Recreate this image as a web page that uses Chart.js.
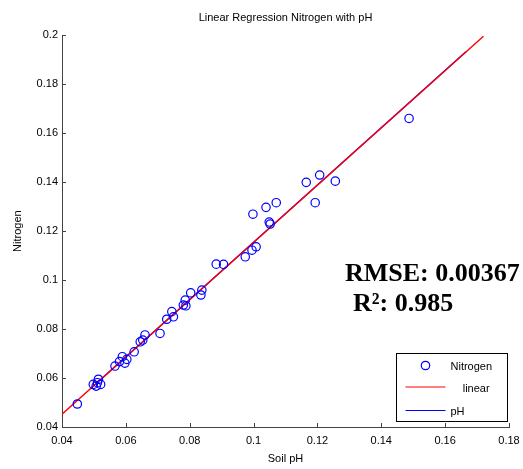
<!DOCTYPE html>
<html>
<head>
<meta charset="utf-8">
<script src="https://cdn.jsdelivr.net/npm/chart.js@4.4.0/dist/chart.umd.min.js"></script>
<style>
html, body { margin: 0; padding: 0; background: #fff; }
#wrap { width: 523px; height: 469px; }
</style>
</head>
<body>
<div id="wrap"><canvas id="chart-area" width="523" height="469"></canvas></div>
<script>
// measured samples
var soilPh = [0.0448, 0.0498, 0.0507, 0.0514, 0.0521, 0.0511, 0.0566, 0.0580, 0.0589, 0.0603,
    0.0597, 0.0626, 0.0645, 0.0653, 0.0660, 0.0707, 0.0728, 0.0744, 0.0749, 0.0780,
    0.0786, 0.0788, 0.0803, 0.0835, 0.0838, 0.0883, 0.0906, 0.0974, 0.0995, 0.1008,
    0.0998, 0.1039, 0.1071, 0.1052, 0.1049, 0.1165, 0.1207, 0.1256, 0.1193, 0.1487];
var nitrogen = [0.0494, 0.0574, 0.0567, 0.0595, 0.0574, 0.0581, 0.0649, 0.0667, 0.0687, 0.0676,
    0.0661, 0.0707, 0.0748, 0.0755, 0.0776, 0.0782, 0.0840, 0.0871, 0.0850, 0.0898,
    0.0918, 0.0895, 0.0948, 0.0939, 0.0959, 0.1065, 0.1064, 0.1095, 0.1122, 0.1136,
    0.1269, 0.1297, 0.1316, 0.1229, 0.1237, 0.1399, 0.1429, 0.1404, 0.1316, 0.1660];

// fitted lines (end points)
var linearX = [0.04, 0.172];
var linearY = [0.0452, 0.1996];
var phX = [0.0488, 0.1665];
var phY = [0.0555, 0.1932];

var xTicks = [0.04, 0.06, 0.08, 0.1, 0.12, 0.14, 0.16, 0.18];
var yTicks = [0.04, 0.06, 0.08, 0.1, 0.12, 0.14, 0.16, 0.18, 0.2];

var rmseText = 'RMSE: 0.00367';
var r2Text = 'R\u00b2: 0.985';

var toPoints = function(xs, ys) {
    return xs.map(function(x, i) { return {x: x, y: ys[i]}; });
};
var fmt = function(v) {
    return String(Number(v.toFixed(2)));
};
var axisColor = '#444';
var font = {family: 'Liberation Sans, Arial, sans-serif', size: 11};

// ticks inside the axes, legend box and the fit text
var extras = {
    id: 'extras',
    afterDraw: function(chart) {
        var ctx = chart.ctx;
        var ca = chart.chartArea;
        var xs = chart.scales.x, ys = chart.scales.y;
        ctx.save();
        ctx.strokeStyle = axisColor;
        ctx.lineWidth = 1;
        ctx.beginPath();
        xTicks.forEach(function(v) {
            var px = Math.round(xs.getPixelForValue(v)) + 0.5;
            ctx.moveTo(px, ca.bottom);
            ctx.lineTo(px, ca.bottom - 4);
        });
        yTicks.forEach(function(v) {
            var py = Math.round(ys.getPixelForValue(v)) + 0.5;
            ctx.moveTo(ca.left, py);
            ctx.lineTo(ca.left + 4, py);
        });
        ctx.stroke();

        // legend
        var bw = 111, bh = 68;
        var bx = Math.round(ca.right - 2 - bw) + 0.5;
        var by = Math.round(ca.bottom - 6 - bh) + 0.5;
        ctx.fillStyle = '#fff';
        ctx.fillRect(bx, by, bw, bh);
        ctx.strokeStyle = '#000';
        ctx.strokeRect(bx, by, bw, bh);
        var rows = [12, 34, 57];
        ctx.font = '11px ' + font.family;
        ctx.textBaseline = 'middle';
        ctx.textAlign = 'left';
        chart.data.datasets.forEach(function(ds, i) {
            var ry = by + rows[i];
            if (ds.showLine) {
                var ly = i === 1 ? ry - 0.5 : ry;
                ctx.strokeStyle = ds.borderColor;
                ctx.lineWidth = i === 1 ? 1.2 : 1;
                ctx.beginPath();
                ctx.moveTo(bx + 9, ly);
                ctx.lineTo(bx + 49, ly);
                ctx.stroke();
            } else {
                ctx.strokeStyle = ds.borderColor;
                ctx.lineWidth = ds.borderWidth;
                ctx.beginPath();
                ctx.arc(bx + 29, ry, ds.pointRadius, 0, Math.PI * 2);
                ctx.stroke();
            }
            ctx.lineWidth = 1;
            ctx.fillStyle = '#000';
            ctx.fillText(ds.label, bx + 54, ry + 1);
        });

        // fit statistics
        ctx.font = 'bold 26px Liberation Serif, Times New Roman, serif';
        ctx.textBaseline = 'alphabetic';
        ctx.fillStyle = '#000';
        ctx.fillText(rmseText, ca.left + 283, ca.top + 246);
        ctx.fillText(r2Text, ca.left + 291, ca.top + 276);
        ctx.restore();
    }
};

var config = {
    type: 'scatter',
    data: {
        datasets: [{
            label: 'Nitrogen',
            data: toPoints(soilPh, nitrogen),
            borderColor: '#0000ff',
            backgroundColor: 'rgba(0,0,0,0)',
            borderWidth: 1.2,
            pointRadius: 4.2,
            pointHoverRadius: 4.2
        }, {
            label: '    linear',
            data: toPoints(linearX, linearY),
            showLine: true,
            borderColor: '#ff0000',
            borderWidth: 1.4,
            pointRadius: 0
        }, {
            label: 'pH',
            data: toPoints(phX, phY),
            showLine: true,
            borderColor: '#0000ff',
            borderWidth: 1.4,
            pointRadius: 0
        }]
    },
    options: {
        responsive: false,
        animation: false,
        layout: {padding: {top: 0, right: 14, bottom: 0, left: 0}},
        plugins: {
            legend: {display: false},
            tooltip: {enabled: false},
            title: {
                display: true,
                text: 'Linear Regression Nitrogen with pH',
                fullSize: false,
                color: '#000',
                font: {family: font.family, size: 11, weight: 'normal'},
                padding: {top: 11, bottom: 11}
            }
        },
        scales: {
            x: {
                type: 'linear',
                min: 0.04,
                max: 0.18,
                afterBuildTicks: function(scale) {
                    scale.ticks = xTicks.map(function(v) { return {value: v}; });
                },
                afterFit: function(scale) {
                    scale.height = 42;
                    scale.paddingLeft = 0;
                    scale.paddingRight = 0;
                },
                ticks: {color: '#000', font: font, padding: 7, maxRotation: 0,
                    callback: function(v) { return fmt(v); }},
                grid: {display: false, drawTicks: false},
                border: {display: true, color: axisColor, width: 1},
                title: {display: true, text: 'Soil pH', color: '#000', font: font,
                    padding: {top: 0, bottom: 3}}
            },
            y: {
                type: 'linear',
                min: 0.04,
                max: 0.2,
                afterBuildTicks: function(scale) {
                    scale.ticks = yTicks.map(function(v) { return {value: v}; });
                },
                afterFit: function(scale) { scale.width = 62; },
                ticks: {color: '#000', font: font, padding: 4,
                    callback: function(v) { return fmt(v); }},
                grid: {display: false, drawTicks: false},
                border: {display: true, color: axisColor, width: 1},
                title: {display: true, text: 'Nitrogen', color: '#000', font: font,
                    padding: {top: 11, bottom: 0}}
            }
        }
    },
    plugins: [extras]
};

window.onload = function() {
    var ctx = document.getElementById('chart-area').getContext('2d');
    window.myScatter = new Chart(ctx, config);
};
</script>
</body>
</html>
